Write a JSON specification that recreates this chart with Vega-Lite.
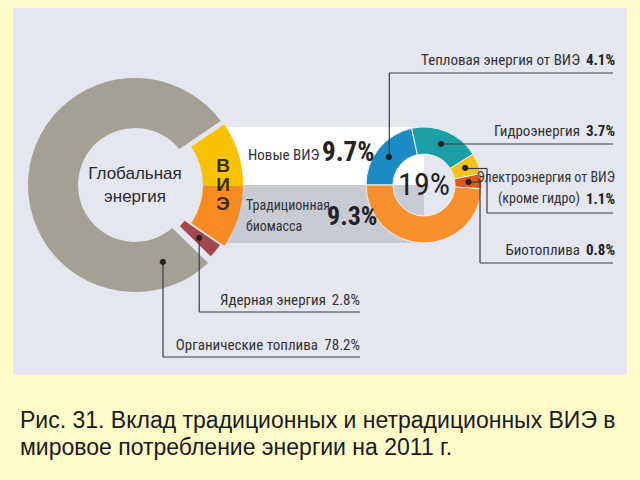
{
  "$schema": "https://vega.github.io/schema/vega-lite/v6.json",
  "width": 640,
  "height": 480,
  "autosize": {"type": "none"},
  "padding": 0,
  "background": "#fefbc9",
  "config": {
    "view": {"stroke": null},
    "axis": {"disable": true},
    "text": {"font": "Roboto Condensed, Arial Narrow, sans-serif", "color": "#333333"}
  },
  "datasets": {
    "global": [
      {"name": "Новые ВИЭ", "value": 9.7, "k": 1},
      {"name": "Традиционная биомасса", "value": 9.3, "k": 2},
      {"name": "Ядерная энергия", "value": 2.8, "k": 3},
      {"name": "Органические топлива", "value": 78.2, "k": 4}
    ],
    "vie": [
      {"name": "Тепловая энергия от ВИЭ", "value": 4.1, "k": 1},
      {"name": "Гидроэнергия", "value": 3.7, "k": 2},
      {"name": "Электроэнергия от ВИЭ", "note": "(кроме гидро)", "value": 1.1, "k": 3},
      {"name": "Биотоплива", "value": 0.8, "k": 4},
      {"name": "Традиционная биомасса", "value": 9.3, "k": 5}
    ],
    "total": [
      {"name": "Глобальная энергия", "share": "ВИЭ", "vie": 19}
    ],
    "caption": [
      {"text": "Рис. 31.  Вклад традиционных и нетрадиционных ВИЭ в|мировое потребление энергии на 2011 г."}
    ]
  },
  "resolve": {"scale": {"theta": "independent"}},
  "layer": [
    {
      "data": {"values": [{}]},
      "mark": {"type": "rect", "fill": "#e4e6f0"},
      "encoding": {
        "x": {"datum": 3.25, "type": "quantitative", "scale": {"domain": [0, 160], "nice": false, "zero": false}, "axis": null},
        "x2": {"datum": 156.75},
        "y": {"datum": 2, "type": "quantitative", "scale": {"domain": [0, 120], "nice": false, "zero": false, "reverse": true}, "axis": null},
        "y2": {"datum": 93.75}
      }
    },
    {
      "data": {"values": [{}]},
      "mark": {"type": "rect", "fill": "#ffffff"},
      "encoding": {"x": {"datum": 55.5}, "x2": {"datum": 106}, "y": {"datum": 31.75}, "y2": {"datum": 46.25}}
    },
    {
      "data": {"values": [{}]},
      "mark": {"type": "rect", "fill": "#c8cad4"},
      "encoding": {"x": {"datum": 55.5}, "x2": {"datum": 106}, "y": {"datum": 46.25}, "y2": {"datum": 60.75}}
    },
    {
      "data": {"name": "global"},
      "mark": {"type": "arc", "innerRadius": 57, "outerRadius": 107, "padAngle": 0.08, "fill": "#a5a094"},
      "encoding": {
        "theta": {"field": "value", "type": "quantitative", "stack": true, "scale": {"range": [0.9739, 7.2571]}},
        "order": {"field": "k", "type": "quantitative"},
        "x": {"datum": 33.75}, "y": {"datum": 46.25},
        "opacity": {"condition": {"test": "datum.k == 4", "value": 1}, "value": 0}
      }
    },
    {
      "data": {"name": "global"},
      "mark": {"type": "arc", "innerRadius": 61, "outerRadius": 104, "padAngle": 0.03, "fill": "#a3474f"},
      "encoding": {
        "theta": {"field": "value", "type": "quantitative", "stack": true, "scale": {"range": [0.9739, 7.2571]}},
        "order": {"field": "k", "type": "quantitative"},
        "x": {"datum": 33.75}, "y": {"datum": 46.25},
        "opacity": {"condition": {"test": "datum.k == 3", "value": 1}, "value": 0}
      }
    },
    {
      "data": {"name": "global"},
      "mark": {"type": "arc", "innerRadius": 68, "outerRadius": 108},
      "encoding": {
        "theta": {"field": "value", "type": "quantitative", "stack": true, "scale": {"range": [0.9739, 7.2571]}},
        "order": {"field": "k", "type": "quantitative"},
        "x": {"datum": 33.75}, "y": {"datum": 46.25},
        "fill": {"condition": {"test": "datum.k == 1", "value": "#f8c200"}, "value": "#f78a21"},
        "opacity": {"condition": {"test": "datum.k <= 2", "value": 1}, "value": 0}
      }
    },
    {
      "data": {"name": "vie"},
      "mark": {"type": "arc", "innerRadius": 31, "outerRadius": 58, "stroke": "#eef0f5", "strokeWidth": 1},
      "encoding": {
        "theta": {"field": "value", "type": "quantitative", "stack": true, "scale": {"range": [4.7124, 10.9956]}},
        "order": {"field": "k", "type": "quantitative"},
        "x": {"datum": 106}, "y": {"datum": 46.25},
        "fill": {"condition": [
          {"test": "datum.k == 1", "value": "#1d8cc4"},
          {"test": "datum.k == 2", "value": "#1b9ea5"},
          {"test": "datum.k == 3", "value": "#f3c21b"},
          {"test": "datum.k == 4", "value": "#e2581c"}
        ], "value": "#f7902d"}
      }
    },
    {"data": {"values": [{}]}, "mark": {"type": "rule", "color": "#3c3c3c", "strokeWidth": 1.2}, "encoding": {"x": {"datum": 97.33}, "y": {"datum": 18.25}, "y2": {"datum": 39.28}}},
    {"data": {"values": [{}]}, "mark": {"type": "rule", "color": "#3c3c3c", "strokeWidth": 1.2}, "encoding": {"x": {"datum": 97.33}, "x2": {"datum": 153.25}, "y": {"datum": 18.25}}},
    {"data": {"values": [{}]}, "mark": {"type": "rule", "color": "#3c3c3c", "strokeWidth": 1.2}, "encoding": {"x": {"datum": 110.3}, "x2": {"datum": 153.25}, "y": {"datum": 36.0}}},
    {"data": {"values": [{}]}, "mark": {"type": "rule", "color": "#3c3c3c", "strokeWidth": 1.2}, "encoding": {"x": {"datum": 116.33}, "x2": {"datum": 121.75}, "y": {"datum": 42.13}}},
    {"data": {"values": [{}]}, "mark": {"type": "rule", "color": "#3c3c3c", "strokeWidth": 1.2}, "encoding": {"x": {"datum": 121.75}, "y": {"datum": 42.13}, "y2": {"datum": 53.25}}},
    {"data": {"values": [{}]}, "mark": {"type": "rule", "color": "#3c3c3c", "strokeWidth": 1.2}, "encoding": {"x": {"datum": 121.75}, "x2": {"datum": 153.25}, "y": {"datum": 53.25}}},
    {"data": {"values": [{}]}, "mark": {"type": "rule", "color": "#3c3c3c", "strokeWidth": 1.2}, "encoding": {"x": {"datum": 117.1}, "x2": {"datum": 120}, "y": {"datum": 45.53}}},
    {"data": {"values": [{}]}, "mark": {"type": "rule", "color": "#3c3c3c", "strokeWidth": 1.2}, "encoding": {"x": {"datum": 120}, "y": {"datum": 45.53}, "y2": {"datum": 65.75}}},
    {"data": {"values": [{}]}, "mark": {"type": "rule", "color": "#3c3c3c", "strokeWidth": 1.2}, "encoding": {"x": {"datum": 120}, "x2": {"datum": 153.25}, "y": {"datum": 65.75}}},
    {"data": {"values": [{}]}, "mark": {"type": "rule", "color": "#3c3c3c", "strokeWidth": 1.2}, "encoding": {"x": {"datum": 49.8}, "y": {"datum": 59.4}, "y2": {"datum": 78}}},
    {"data": {"values": [{}]}, "mark": {"type": "rule", "color": "#3c3c3c", "strokeWidth": 1.2}, "encoding": {"x": {"datum": 49.8}, "x2": {"datum": 90}, "y": {"datum": 78}}},
    {"data": {"values": [{}]}, "mark": {"type": "rule", "color": "#3c3c3c", "strokeWidth": 1.2}, "encoding": {"x": {"datum": 40.75}, "y": {"datum": 65.5}, "y2": {"datum": 89.25}}},
    {"data": {"values": [{}]}, "mark": {"type": "rule", "color": "#3c3c3c", "strokeWidth": 1.2}, "encoding": {"x": {"datum": 40.75}, "x2": {"datum": 90}, "y": {"datum": 89.25}}},
    {
      "data": {"name": "vie"},
      "mark": {"type": "text", "text": "●", "fontSize": 8, "baseline": "middle", "align": "center", "color": "#222222", "font": "DejaVu Sans"},
      "encoding": {
        "theta": {"field": "value", "type": "quantitative", "stack": true, "scale": {"range": [4.7124, 10.9956]}},
        "order": {"field": "k", "type": "quantitative"},
        "radius": {"value": 44.5},
        "x": {"datum": 106}, "y": {"datum": 46.25},
        "opacity": {"condition": {"test": "datum.k <= 4", "value": 1}, "value": 0}
      }
    },
    {
      "data": {"name": "global"},
      "mark": {"type": "text", "text": "●", "fontSize": 8, "baseline": "middle", "align": "center", "color": "#222222", "font": "DejaVu Sans"},
      "encoding": {
        "theta": {"field": "value", "type": "quantitative", "stack": true, "scale": {"range": [0.9739, 7.2571]}},
        "order": {"field": "k", "type": "quantitative"},
        "radius": {"value": 83},
        "x": {"datum": 33.75}, "y": {"datum": 46.25},
        "opacity": {"condition": {"test": "datum.k == 3", "value": 1}, "value": 0}
      }
    },
    {
      "data": {"name": "global"},
      "transform": [{"filter": "datum.k == 4"}],
      "mark": {"type": "text", "text": "●", "fontSize": 8, "baseline": "middle", "align": "center", "color": "#222222", "font": "DejaVu Sans"},
      "encoding": {"x": {"datum": 40.75}, "y": {"datum": 65.5}}
    },
    {
      "data": {"name": "total"},
      "mark": {"type": "text", "font": "Liberation Sans", "fontSize": 17, "lineBreak": " ", "lineHeight": 23, "align": "center", "baseline": "middle", "color": "#2b2b2b"},
      "encoding": {"x": {"datum": 33.75}, "y": {"datum": 43.5}, "text": {"field": "name"}}
    },
    {
      "data": {"name": "total"},
      "transform": [{"calculate": "slice(datum.share, 0, 1) + '|' + slice(datum.share, 1, 2) + '|' + slice(datum.share, 2, 3)", "as": "stacked"}],
      "mark": {"type": "text", "font": "Liberation Sans", "fontSize": 19, "fontWeight": "bold", "lineBreak": "|", "lineHeight": 19, "align": "center", "baseline": "middle", "color": "#3b2a10"},
      "encoding": {"x": {"datum": 55.75}, "y": {"datum": 41.5}, "text": {"field": "stacked"}}
    },
    {
      "data": {"name": "total"},
      "transform": [{"calculate": "datum.vie + '%'", "as": "pct"}],
      "mark": {"type": "text", "fontSize": 32, "align": "center", "baseline": "middle", "color": "#222222"},
      "encoding": {"x": {"datum": 106}, "y": {"datum": 46.25}, "text": {"field": "pct"}}
    },
    {
      "data": {"name": "global"},
      "transform": [{"filter": "datum.k == 1"}],
      "mark": {"type": "text", "fontSize": 15, "align": "left", "baseline": "middle"},
      "encoding": {"x": {"datum": 62}, "y": {"datum": 38.75}, "text": {"field": "name"}}
    },
    {
      "data": {"name": "global"},
      "transform": [{"filter": "datum.k == 1"}, {"calculate": "format(datum.value, '.1f') + '%'", "as": "pct"}],
      "mark": {"type": "text", "fontSize": 27, "fontWeight": "bold", "align": "left", "baseline": "middle", "color": "#222222"},
      "encoding": {"x": {"datum": 80.5}, "y": {"datum": 38.25}, "text": {"field": "pct"}}
    },
    {
      "data": {"name": "global"},
      "transform": [{"filter": "datum.k == 2"}],
      "mark": {"type": "text", "fontSize": 14, "align": "left", "baseline": "middle", "lineBreak": " ", "lineHeight": 21},
      "encoding": {"x": {"datum": 61.5}, "y": {"datum": 51.5}, "text": {"field": "name"}}
    },
    {
      "data": {"name": "global"},
      "transform": [{"filter": "datum.k == 2"}, {"calculate": "format(datum.value, '.1f') + '%'", "as": "pct"}],
      "mark": {"type": "text", "fontSize": 26, "fontWeight": "bold", "align": "left", "baseline": "middle", "color": "#222222"},
      "encoding": {"x": {"datum": 81.75}, "y": {"datum": 54.25}, "text": {"field": "pct"}}
    },
    {
      "data": {"name": "vie"},
      "transform": [{"filter": "datum.k == 1"}],
      "mark": {"type": "text", "fontSize": 15, "align": "right", "baseline": "middle"},
      "encoding": {"x": {"datum": 145}, "y": {"datum": 15}, "text": {"field": "name"}}
    },
    {
      "data": {"name": "vie"},
      "transform": [{"filter": "datum.k == 2"}],
      "mark": {"type": "text", "fontSize": 15, "align": "right", "baseline": "middle"},
      "encoding": {"x": {"datum": 145}, "y": {"datum": 32.75}, "text": {"field": "name"}}
    },
    {
      "data": {"name": "vie"},
      "transform": [{"filter": "datum.k == 3"}],
      "mark": {"type": "text", "fontSize": 14, "align": "right", "baseline": "middle"},
      "encoding": {"x": {"datum": 153.75}, "y": {"datum": 44.5}, "text": {"field": "name"}}
    },
    {
      "data": {"name": "vie"},
      "transform": [{"filter": "datum.k == 3"}],
      "mark": {"type": "text", "fontSize": 14, "align": "right", "baseline": "middle"},
      "encoding": {"x": {"datum": 145}, "y": {"datum": 49.75}, "text": {"field": "note"}}
    },
    {
      "data": {"name": "vie"},
      "transform": [{"filter": "datum.k == 4"}],
      "mark": {"type": "text", "fontSize": 15, "align": "right", "baseline": "middle"},
      "encoding": {"x": {"datum": 145}, "y": {"datum": 62.5}, "text": {"field": "name"}}
    },
    {
      "data": {"name": "vie"},
      "transform": [{"filter": "datum.k <= 4"}, {"calculate": "format(datum.value, '.1f') + '%'", "as": "pct"}, {"calculate": "datum.k == 1 ? 15 : datum.k == 2 ? 32.75 : datum.k == 3 ? 49.75 : 62.5", "as": "row"}],
      "mark": {"type": "text", "fontSize": 15, "fontWeight": "bold", "align": "right", "baseline": "middle", "color": "#222222"},
      "encoding": {"x": {"datum": 153.75}, "y": {"field": "row", "type": "quantitative"}, "text": {"field": "pct"}}
    },
    {
      "data": {"name": "global"},
      "transform": [{"filter": "datum.k == 3"}],
      "mark": {"type": "text", "fontSize": 15, "align": "right", "baseline": "middle"},
      "encoding": {"x": {"datum": 81.5}, "y": {"datum": 75}, "text": {"field": "name"}}
    },
    {
      "data": {"name": "global"},
      "transform": [{"filter": "datum.k == 4"}],
      "mark": {"type": "text", "fontSize": 15, "align": "right", "baseline": "middle"},
      "encoding": {"x": {"datum": 79.5}, "y": {"datum": 86.25}, "text": {"field": "name"}}
    },
    {
      "data": {"name": "global"},
      "transform": [{"filter": "datum.k >= 3"}, {"calculate": "format(datum.value, '.1f') + '%'", "as": "pct"}, {"calculate": "datum.k == 3 ? 75 : 86.25", "as": "row"}],
      "mark": {"type": "text", "fontSize": 15, "align": "right", "baseline": "middle"},
      "encoding": {"x": {"datum": 90}, "y": {"field": "row", "type": "quantitative"}, "text": {"field": "pct"}}
    },
    {
      "data": {"name": "caption"},
      "mark": {"type": "text", "font": "Liberation Sans", "fontSize": 23, "lineBreak": "|", "lineHeight": 27, "align": "left", "baseline": "middle", "color": "#1a1a1a"},
      "encoding": {"x": {"datum": 5}, "y": {"datum": 105.25}, "text": {"field": "text"}}
    }
  ]
}
